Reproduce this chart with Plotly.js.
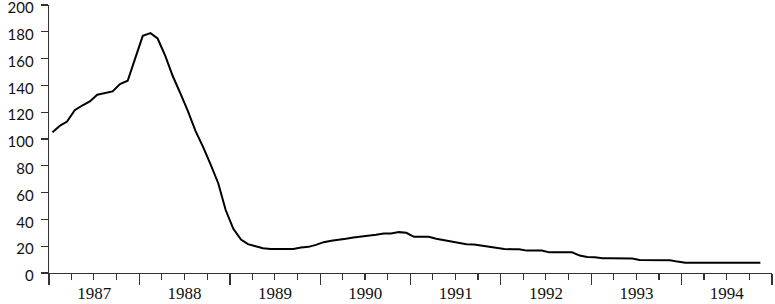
<!DOCTYPE html>
<html>
<head>
<meta charset="utf-8">
<script src="https://cdn.plot.ly/plotly-3.0.1.min.js"></script>
<style>html,body{margin:0;padding:0;background:#fff;}#chart{width:775px;height:304px;}</style>
</head>
<body>
<div id="chart"></div>
<script>
// Monthly series, January 1987 onward
const startYear = 1987;
const values = [
  105, 110, 113, 121.5, 125, 128, 133, 134, 135.5, 141, 143.5, 160,
  177, 179, 175, 162, 147, 134, 121, 106, 94, 81, 67, 47,
  33, 25, 21.5, 20, 18.5, 18, 18, 18, 18, 19, 19.5, 21,
  23, 24, 24.5, 25.5, 26.5, 27, 27.5, 28.5, 29.5, 29.5, 30.5, 30,
  27, 27, 27, 25.5, 24.5, 23.5, 22, 21.5, 21.3, 20.5, 19.5, 19,
  18, 17.7, 17.7, 16.7, 16.7, 16.7, 15.4, 15.4, 15.4, 15.4, 13, 12,
  11.7, 11, 11, 11, 11, 10.8, 9.7, 9.7, 9.7, 9.7, 9.5, 8.5,
  7.7, 7.7, 7.7, 7.7, 7.7, 7.7, 7.7, 7.7, 7.7, 7.7, 7.7
];
const yTicks = [0, 20, 40, 60, 80, 100, 120, 140, 160, 180, 200];

const months = values.map((v, i) => {
  const y = startYear + Math.floor(i / 12);
  const m = (i % 12) + 1;
  return y + '-' + String(m).padStart(2, '0') + '-15';
});

const trace = {
  x: months, y: values, type: 'scatter', mode: 'lines',
  line: {color: '#000', width: 2}, hoverinfo: 'skip'
};

const layout = {
  width: 775, height: 304,
  margin: {l: 49, r: 3, t: 5, b: 31},
  paper_bgcolor: '#fff', plot_bgcolor: '#fff',
  showlegend: false,
  xaxis: {
    type: 'date',
    range: ['1987-01-01', '1995-01-01'],
    tick0: '1987-01-01', dtick: 'M12',
    ticklabelmode: 'period',
    tickformat: '%Y',
    ticks: 'outside', ticklen: 11, tickwidth: 1.3, tickcolor: '#333',
    ticklabelstandoff: -7,
    ticklabeloverflow: 'allow',
    minor: {dtick: 'M3', ticks: 'outside', ticklen: 6, tickwidth: 1.2, tickcolor: '#333', showgrid: false},
    showline: true, linecolor: '#333', linewidth: 1.3,
    showgrid: false, zeroline: false,
    tickfont: {family: 'Liberation Serif, serif', size: 17, color: '#111'}
  },
  yaxis: {
    range: [0, 200],
    tickvals: yTicks,
    ticktext: yTicks.map(String),
    ticks: 'outside', ticklen: 7, tickwidth: 1.3, tickcolor: '#333',
    ticklabelstandoff: 4,
    ticklabelshift: 3,
    ticklabeloverflow: 'allow',
    showline: true, linecolor: '#333', linewidth: 1.3,
    showgrid: false, zeroline: false,
    tickfont: {family: 'Lato, Noto Sans, sans-serif', size: 15, color: '#111'}
  }
};

Plotly.newPlot('chart', [trace], layout, {staticPlot: true, displayModeBar: false});
</script>
</body>
</html>
